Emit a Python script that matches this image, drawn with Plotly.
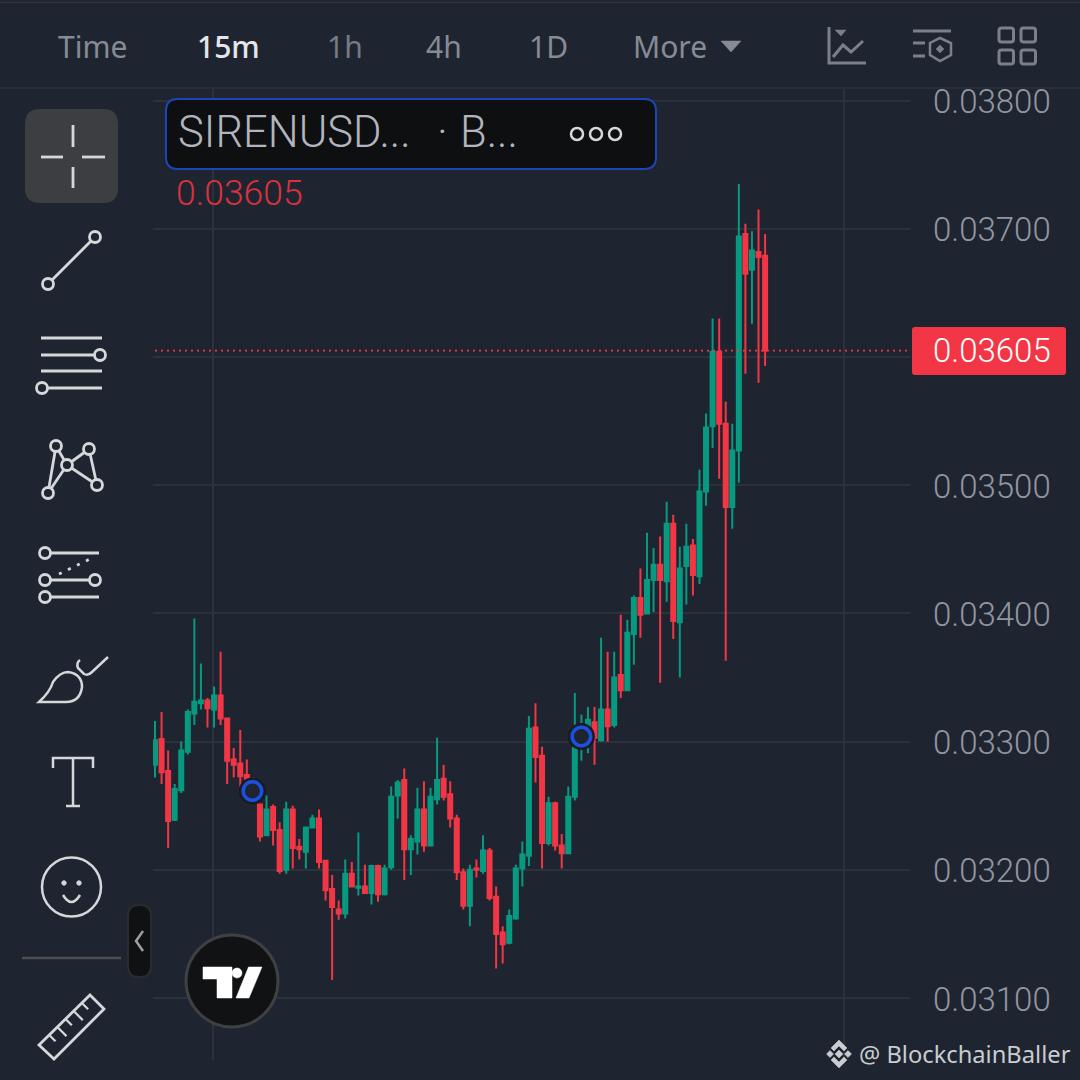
import plotly.graph_objects as go

# Prices in units of 0.00001 USD
open_units = [3282,3302,3277,3239,3262,3292,3322,3330,3332,3325,3336,3318,3286,3283,3274,3270,3251,3227,3249,3231,3200,3247,3218,3214,3233,3240,3207,3185,3169,3166,3197,3186,3187,3182,3203,3181,3202,3258,3270,3216,3222,3247,3219,3255,3271,3259,3240,3198,3172,3201,3199,3215,3179,3151,3143,3162,3201,3211,3311,3289,3221,3252,3219,3213,3257,3296,3301,3315,3301,3325,3313,3352,3340,3384,3412,3400,3426,3438,3425,3470,3393,3437,3453,3429,3495,3546,3604,3548,3483,3527,3696,3668,3682,3679]
high_units = [3316,3323,3293,3267,3300,3325,3396,3361,3334,3343,3370,3318,3295,3309,3286,3272,3251,3258,3251,3237,3253,3250,3224,3233,3243,3247,3207,3196,3176,3208,3206,3229,3204,3204,3204,3204,3265,3270,3279,3227,3264,3269,3264,3303,3282,3269,3243,3201,3204,3208,3227,3217,3187,3156,3169,3204,3222,3320,3330,3296,3257,3253,3228,3265,3338,3321,3327,3327,3381,3370,3370,3399,3395,3414,3435,3463,3451,3460,3487,3477,3452,3470,3458,3512,3556,3630,3630,3565,3548,3735,3704,3698,3715,3696]
low_units = [3272,3267,3217,3238,3260,3290,3313,3325,3311,3311,3313,3267,3272,3265,3270,3252,3222,3227,3219,3197,3197,3201,3208,3201,3233,3201,3176,3114,3161,3162,3187,3180,3182,3173,3175,3180,3200,3240,3192,3196,3212,3214,3219,3251,3254,3233,3192,3169,3156,3194,3197,3176,3123,3127,3142,3161,3187,3203,3268,3201,3219,3215,3201,3213,3254,3285,3291,3282,3300,3300,3311,3334,3340,3360,3381,3400,3401,3346,3409,3380,3350,3407,3414,3423,3484,3529,3505,3363,3466,3502,3587,3626,3580,3593]
close_units = [3301,3276,3238,3263,3293,3323,3331,3332,3326,3336,3318,3285,3282,3273,3271,3253,3226,3247,3231,3199,3247,3217,3216,3233,3240,3206,3184,3171,3166,3197,3187,3187,3182,3203,3181,3201,3257,3268,3216,3224,3247,3219,3257,3270,3257,3240,3198,3172,3200,3200,3215,3178,3150,3142,3164,3201,3212,3310,3288,3221,3252,3219,3213,3257,3295,3311,3317,3303,3325,3312,3350,3340,3385,3412,3399,3426,3438,3426,3470,3394,3435,3452,3430,3495,3545,3604,3548,3483,3527,3694,3665,3683,3678,3605]
marker_bars = [14.85, 65]
marker_units = [3261.5, 3304]
y_ticks = [0.031, 0.032, 0.033, 0.034, 0.035, 0.036, 0.037, 0.038]
y_tick_labels = ["0.03100", "0.03200", "0.03300", "0.03400", "0.03500", "", "0.03700", "0.03800"]
grid_bars = [8.85, 105]
last_price = 0.03605
header_labels = ["Time", "15m", "1h", "4h", "1D", "More"]

BG = "#1f2530"
GRID = "#2c323c"
UP = "#089981"
DOWN = "#f23645"
ICON = "#d5d7da"
HEAD = "#7a7f8b"

bars = list(range(len(open_units)))
opens = [v / 1e5 for v in open_units]
highs = [v / 1e5 for v in high_units]
lows = [v / 1e5 for v in low_units]
closes = [v / 1e5 for v in close_units]
marker_prices = [v / 1e5 for v in marker_units]


def X(p):
    return p / 1080


def Y(p):
    return 1 - p / 1080


shapes = []
annots = []


def line(x0, y0, x1, y1, color=ICON, w=2.8, dash=None):
    shapes.append(dict(type="line", xref="paper", yref="paper", x0=X(x0), y0=Y(y0), x1=X(x1), y1=Y(y1),
                       line=dict(color=color, width=w, dash=dash)))


def circle(cx, cy, r, color=ICON, w=2.8, fill=None):
    shapes.append(dict(type="circle", xref="paper", yref="paper", x0=X(cx - r), x1=X(cx + r), y0=Y(cy - r), y1=Y(cy + r),
                       line=dict(color=color, width=w), fillcolor=fill or "rgba(0,0,0,0)"))


def path(d_cmds, color=ICON, w=2.8, fill=None):
    out = []
    for c in d_cmds:
        if isinstance(c, str):
            out.append(c)
        else:
            out.append(f"{X(c[0]):.5f},{Y(c[1]):.5f}")
    shapes.append(dict(type="path", xref="paper", yref="paper", path=" ".join(out),
                       line=dict(color=color, width=w), fillcolor=fill or "rgba(0,0,0,0)"))


def poly(pts, color=ICON, w=2.8, fill=None, close=False):
    cmds = []
    for i, p in enumerate(pts):
        cmds += ["M" if i == 0 else "L", p]
    if close:
        cmds.append("Z")
    path(cmds, color, w, fill)


def rrect(x0, y0, x1, y1, r, color, w, fill):
    path(["M", (x0 + r, y0), "L", (x1 - r, y0), "Q", (x1, y0), (x1, y0 + r), "L", (x1, y1 - r), "Q", (x1, y1), (x1 - r, y1),
          "L", (x0 + r, y1), "Q", (x0, y1), (x0, y1 - r), "L", (x0, y0 + r), "Q", (x0, y0), (x0 + r, y0), "Z"], color, w, fill)


def text(x, y, s, size, color, family="Roboto", weight=400, anchor="left"):
    annots.append(dict(xref="paper", yref="paper", x=X(x), y=Y(y), text=s, showarrow=False, xanchor=anchor, yanchor="middle",
                       font=dict(size=size, color=color, family=family, weight=weight), borderpad=0, borderwidth=0))


# header
line(0, 2.5, 1080, 2.5, "#2d333d", 1.5)
line(0, 88, 1080, 88, "#282e38", 2)
for s, x, col, wt in zip(header_labels, [58, 197, 327, 426, 529, 633],
                         ["#868b95", "#e4e6ea", "#767b86", "#868b95", "#868b95", "#868b95"],
                         [400, 500, 400, 400, 400, 400]):
    text(x, 47, s, 30, col, "Noto Sans", wt)
poly([(721, 41), (741, 41), (731, 52)], "#868b95", 0.5, "#868b95", True)

# header icons
poly([(829, 27), (829, 63), (866, 63)], HEAD, 3)
poly([(835, 30), (846, 30), (841, 36)], HEAD, 0.5, HEAD, True)
poly([(833, 57), (843, 45), (851, 52), (863, 41)], HEAD, 3)
line(913, 31, 951, 31, HEAD, 3)
line(913, 43, 925, 43, HEAD, 3)
line(913, 56, 925, 56, HEAD, 3)
poly([(940, 38), (951, 43), (951, 55), (940, 61), (930, 55), (930, 43)], HEAD, 2.5, None, True)
poly([(940, 45), (944, 49), (940, 53), (936, 49)], HEAD, 0.5, HEAD, True)
for a, b in [(999, 28), (1021, 28), (999, 50), (1021, 50)]:
    rrect(a, b, a + 14.5, b + 14, 2.5, HEAD, 3, None)

# toolbar
rrect(25, 109, 118, 203, 15, "#3d3e41", 0, "#3d3e41")
line(73, 125, 73, 147)
line(73, 167, 73, 188)
line(41, 157, 63, 157)
line(82, 157, 105, 157)

line(91, 241, 52, 280)
circle(95, 237, 5.5)
circle(48, 284, 5.5)

line(41, 338, 102, 338)
line(41, 355, 95, 355)
circle(100, 355, 5.5)
line(41, 371, 102, 371)
line(48, 388, 102, 388)
circle(42, 388, 5.5)

for a, b in [((48, 493), (56, 446)), ((56, 446), (67, 465)), ((48, 493), (67, 465)), ((67, 465), (89, 449)),
             ((67, 465), (97, 485)), ((89, 449), (97, 485))]:
    line(a[0], a[1], b[0], b[1])
for c in [(56, 446), (89, 449), (67, 465), (97, 485), (48, 493)]:
    circle(c[0], c[1], 5.5, ICON, 2.8, BG)

line(50, 553, 99, 553)
line(50, 580, 90, 580)
line(50, 597, 99, 597)
line(59, 574, 92, 558, ICON, 2.8, "3px,7px")
for c in [(45, 553), (45, 580), (95, 580), (45, 597)]:
    circle(c[0], c[1], 5.5, ICON, 2.8, BG)

path(["M", (39, 702), "Q", (50, 692), (53, 682), "Q", (60, 672), (68, 672), "Q", (82, 674), (82, 687), "Q", (80, 702), (66, 702), "Z"], ICON, 2.5)
path(["M", (80, 660), "Q", (76, 663), (78, 668), "L", (84, 674), "Q", (88, 676), (92, 672), "L", (108, 657)], ICON, 2.5)
poly([(53, 768), (53, 758), (93, 758), (93, 768)], ICON, 2.5)
line(73, 758, 73, 806, ICON, 2.5)
line(66, 806, 80, 806, ICON, 2.5)
circle(71.5, 887, 29.5, ICON, 2.5)
circle(64, 883, 2.2, ICON, 1, ICON)
circle(79, 883, 2.2, ICON, 1, ICON)
path(["M", (63, 895), "Q", (71.5, 909), (80, 895)], ICON, 2.5)
line(22, 958, 121, 958, "#4d4f53", 2.5)

# ruler
A, B, C, D = (90, 995), (104, 1009), (54, 1059), (39, 1045)
poly([A, B, C, D], ICON, 2.8, None, True)
for t, ln in [(0.2, 9), (0.36, 13), (0.52, 9), (0.68, 13), (0.84, 9)]:
    px, py = D[0] + (A[0] - D[0]) * t, D[1] + (A[1] - D[1]) * t
    line(px, py, px + ln * 0.7, py + ln * 0.7, ICON, 2.2)

# collapse handle
rrect(128, 905, 151, 977, 11, "#2a2c30", 2, "#101113")
poly([(143, 931), (136, 941), (143, 951)], "#9a9ea6", 2.5)

# symbol box
rrect(166, 99, 656, 169, 12, "#1c46b8", 2, "#0e0f11")
text(178, 133, "SIRENUSD...", 43.5, "#b2b5be", "Roboto", 300)
text(437, 133, "·", 43.5, "#b2b5be", "Roboto", 300)
text(460, 133, "B...", 43.5, "#b2b5be", "Roboto", 300)
for c in [577, 596, 615]:
    circle(c, 134, 6, ICON, 2.5)
text(176, 193, "0.03605", 35.5, "#d9323f", "Roboto", 300)

# last price label
shapes.append(dict(type="line", xref="paper", yref="y", x0=X(155), x1=X(910), y0=last_price, y1=last_price,
                   line=dict(color=DOWN, width=1.8, dash="2px,4px")))
rrect(912, 327, 1066, 375, 3, DOWN, 0, DOWN)
text(933, 351, f"{last_price:.5f}", 33, "#ffffff", "Roboto", 300)

# footer
text(859, 1054, "@ BlockchainBaller", 23.7, "#c9ccd1", "Noto Sans", 400)
FOOT = "#c9ccd1"
poly([(839, 1040), (847, 1048), (844, 1051), (839, 1046), (834, 1051), (831, 1048)], FOOT, 0.5, FOOT, True)
poly([(839, 1068), (847, 1060), (844, 1057), (839, 1062), (834, 1057), (831, 1060)], FOOT, 0.5, FOOT, True)
poly([(839, 1050), (843, 1054), (839, 1058), (835, 1054)], FOOT, 0.5, FOOT, True)
poly([(830, 1050.5), (833.5, 1054), (830, 1057.5), (826.5, 1054)], FOOT, 0.5, FOOT, True)
poly([(848, 1050.5), (851.5, 1054), (848, 1057.5), (844.5, 1054)], FOOT, 0.5, FOOT, True)

# logo badge on top of the candles
circle(232, 981, 46, "#3f4043", 3, "#111214")
poly([(203, 967), (232, 967), (232, 998), (217, 998), (217, 979), (203, 979)], "#ffffff", 0.5, "#ffffff", True)
circle(237, 973, 5, "#ffffff", 0.5, "#ffffff")
poly([(248.5, 967), (262, 967), (249, 998), (236, 998)], "#ffffff", 0.5, "#ffffff", True)

# scale: candle i is centred on pixel 155 + 6.56 i, the price 0.031 on pixel 998, 128.2 px per 0.001
x_lo = (153 - 155) / 6.56
x_hi = (910 - 155) / 6.56
y_lo = 0.031 - (1060 - 998) / 128200
y_hi = 0.031 + (998 - 88) / 128200

fig = go.Figure()
fig.add_trace(go.Candlestick(
    x=bars, open=opens, high=highs, low=lows, close=closes,
    increasing=dict(line=dict(color=UP, width=2), fillcolor=UP),
    decreasing=dict(line=dict(color=DOWN, width=2), fillcolor=DOWN),
    whiskerwidth=0, hoverinfo="skip", showlegend=False))
fig.add_trace(go.Scatter(x=marker_bars, y=marker_prices, mode="markers", hoverinfo="skip", showlegend=False,
                         marker=dict(size=27, color="#171b22", line=dict(width=0))))
fig.add_trace(go.Scatter(x=marker_bars, y=marker_prices, mode="markers", hoverinfo="skip", showlegend=False,
                         marker=dict(size=18.5, color=BG, line=dict(width=3.5, color="#1b50e0"))))
fig.update_layout(
    width=1080, height=1080, autosize=False, margin=dict(l=0, r=0, t=0, b=0, pad=0),
    paper_bgcolor=BG, plot_bgcolor=BG, showlegend=False, dragmode=False, boxgap=0.39, boxgroupgap=0,
    xaxis=dict(domain=[X(153), X(910)], range=[x_lo, x_hi], rangeslider=dict(visible=False), automargin=False,
               tickvals=grid_bars, showticklabels=False, ticks="", showgrid=True, gridcolor=GRID, gridwidth=2,
               zeroline=False, showline=False),
    yaxis=dict(domain=[Y(1060), Y(88)], range=[y_lo, y_hi], side="right", tickvals=y_ticks, ticktext=y_tick_labels, automargin=False,
               ticklabelstandoff=22, ticklabelshift=1, ticks="", showgrid=True, gridcolor=GRID, gridwidth=2, zeroline=False, showline=False,
               tickfont=dict(family="Roboto", size=33, color="#9296a0", weight=300)),
    shapes=shapes, annotations=annots)

fig.write_html("out.html", config={"displayModeBar": False, "staticPlot": True},
               post_script="document.body.style.margin='0';")
